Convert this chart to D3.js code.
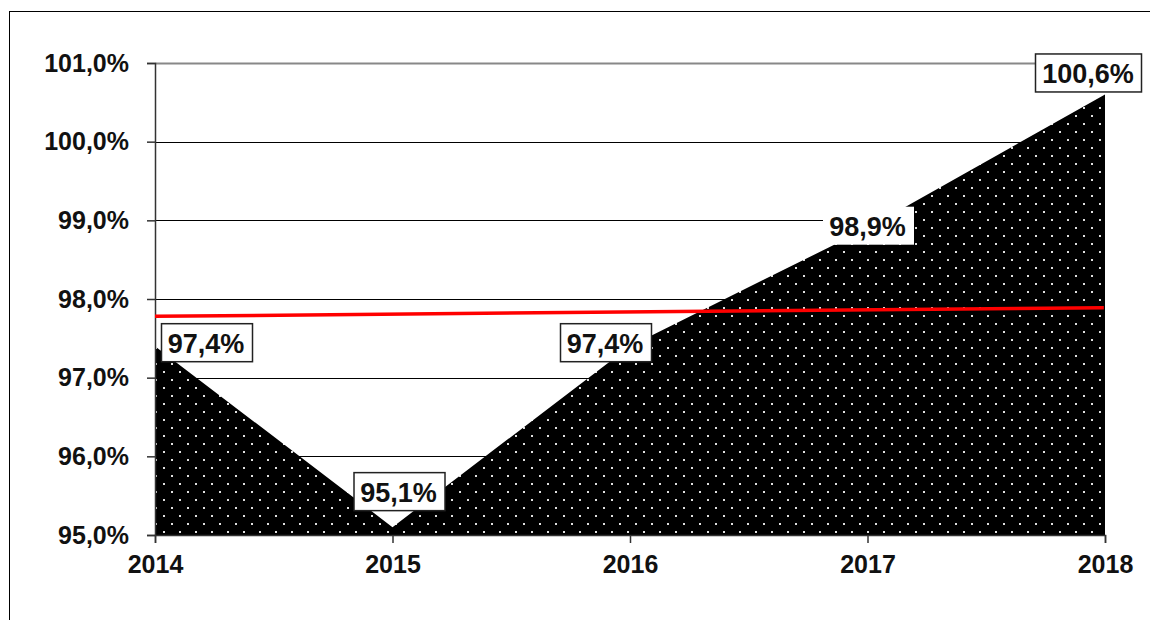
<!DOCTYPE html>
<html>
<head>
<meta charset="utf-8">
<script src="https://cdn.jsdelivr.net/npm/d3@7"></script>
<style>
  body { margin: 0; background: #fff; }
  svg { display: block; font-family: "Liberation Sans", Arial, sans-serif; font-weight: bold; }
</style>
</head>
<body>
<svg id="chart"></svg>
<script>
/* données */
const years = [2014, 2015, 2016, 2017, 2018]
const values = [97.4, 95.1, 97.4, 98.9, 100.6]
const labels = ['97,4%', '95,1%', '97,4%', '98,9%', '100,6%']
const yTicks = [95, 96, 97, 98, 99, 100, 101]
const redYears = [2014, 2017.995]
const redValues = [97.78, 97.89]

/* placement des étiquettes (décalage en px par rapport au point) */
const labelDx = [51, 6, -25, 0, -17]
const labelDy = [-3, -35, -3, -2, -21]
const labelBorder = [true, true, true, false, true]

const width = 1150, height = 620
const margin = {top: 63, right: 45, bottom: 85, left: 155}

const svg = d3.select('#chart').attr('width', width).attr('height', height)

// cadre extérieur
svg.append('rect')
   .attr('x', 9.5).attr('y', 11.5)
   .attr('width', 1200).attr('height', 700)
   .attr('fill', 'none').attr('stroke', '#000').attr('stroke-width', 1)

const xScale = d3.scaleLinear()
   .domain([2014, 2018])
   .range([margin.left, width - margin.right])

const yScale = d3.scaleLinear()
   .domain([95, 101])
   .range([height - margin.bottom, margin.top])

// motif de points blancs
const defs = svg.append('defs')
const pat = defs.append('pattern')
   .attr('id', 'dots').attr('patternUnits', 'userSpaceOnUse')
   .attr('width', 16).attr('height', 16)
pat.append('rect').attr('width', 16).attr('height', 16).attr('fill', '#000')
pat.append('rect').attr('x', 3).attr('y', 3).attr('width', 2).attr('height', 2).attr('fill', '#e0e0e0')
pat.append('rect').attr('x', 11).attr('y', 11).attr('width', 2).attr('height', 2).attr('fill', '#e0e0e0')

// lignes de grille
svg.append('g')
   .selectAll('line')
   .data(yTicks.filter(d => d > 95))
   .enter()
   .append('line')
   .attr('x1', margin.left).attr('x2', width - margin.right)
   .attr('y1', d => Math.round(yScale(d)) + 0.5)
   .attr('y2', d => Math.round(yScale(d)) + 0.5)
   .attr('stroke', d => d === 101 ? '#888' : '#000')
   .attr('stroke-width', d => d === 101 ? 2 : 1)

// aire
const data = years.map((y, i) => ({year: y, value: values[i], label: labels[i], i: i}))

const area = d3.area()
   .x(d => xScale(d.year))
   .y0(yScale(95))
   .y1(d => yScale(d.value))

svg.append('path')
   .datum(data)
   .attr('d', area)
   .attr('fill', 'url(#dots)')

// axes
const yAxis = d3.axisLeft(yScale)
   .tickValues(yTicks)
   .tickSize(8)
   .tickPadding(18)
   .tickFormat(d => d3.format('.1f')(d).replace('.', ',') + '%')

svg.append('g')
   .attr('transform', 'translate(' + margin.left + ',0)')
   .call(yAxis)
   .call(g => g.selectAll('text').style('font-size', '25px').attr('fill', '#111'))
   .call(g => g.selectAll('line, path').attr('stroke', '#333').attr('stroke-width', 1.5))

const xAxis = d3.axisBottom(xScale)
   .tickValues(years)
   .tickSize(8)
   .tickPadding(12)
   .tickFormat(d3.format('d'))

svg.append('g')
   .attr('transform', 'translate(0,' + yScale(95) + ')')
   .call(xAxis)
   .call(g => g.selectAll('text').style('font-size', '25px').attr('fill', '#111'))
   .call(g => g.selectAll('line, path').attr('stroke', '#333').attr('stroke-width', 1.5))

// ligne rouge
const redData = redYears.map((y, i) => ({year: y, value: redValues[i]}))
svg.append('path')
   .datum(redData)
   .attr('d', d3.line().x(d => xScale(d.year)).y(d => yScale(d.value)))
   .attr('stroke', '#ff0000').attr('stroke-width', 3.5).attr('fill', 'none')

// étiquettes
const lab = svg.append('g')
   .selectAll('g')
   .data(data)
   .enter()
   .append('g')
   .attr('transform', d => 'translate(' + (xScale(d.year) + labelDx[d.i]) + ',' + (yScale(d.value) + labelDy[d.i]) + ')')

lab.append('text')
   .attr('text-anchor', 'middle')
   .attr('dy', '0.36em')
   .style('font-size', '27px')
   .attr('fill', '#111')
   .text(d => d.label)

lab.each(function (d) {
   const g = d3.select(this)
   const bb = g.select('text').node().getBBox()
   g.insert('rect', 'text')
    .attr('x', Math.round(bb.x - 7) + 0.5)
    .attr('y', -19.5)
    .attr('width', Math.round(bb.width + 14))
    .attr('height', 38)
    .attr('fill', '#fff')
    .attr('stroke', labelBorder[d.i] ? '#222' : 'none')
    .attr('stroke-width', 1.5)
})
</script>
</body>
</html>
